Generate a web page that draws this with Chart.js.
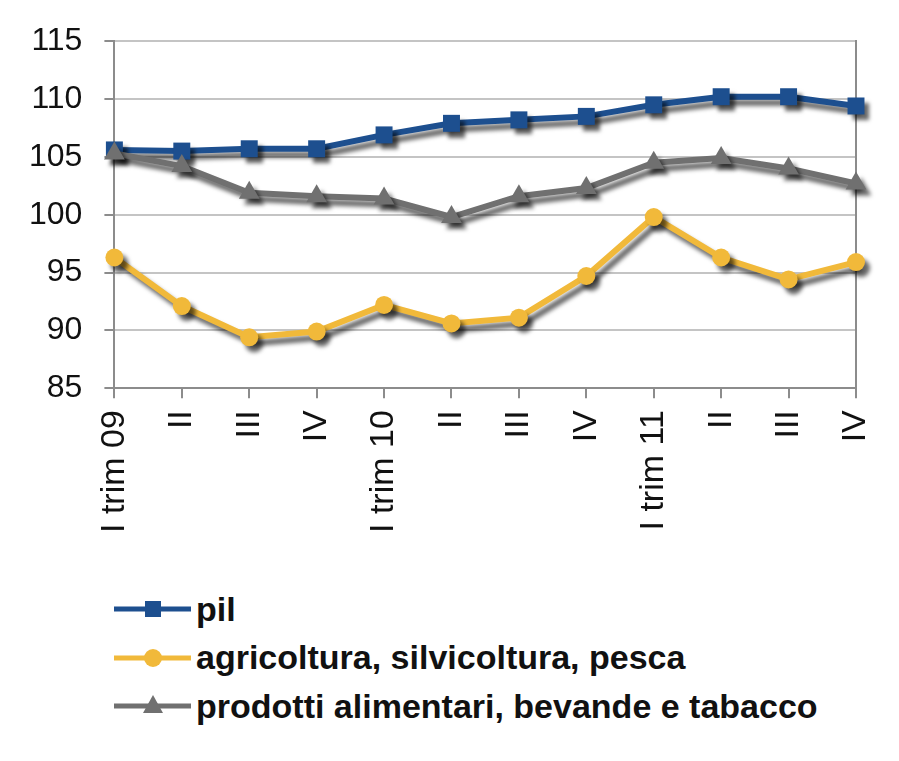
<!DOCTYPE html>
<html>
<head>
<meta charset="utf-8">
<script src="https://cdn.jsdelivr.net/npm/chart.js@4.4.1/dist/chart.umd.min.js"></script>
<style>
    html, body { margin: 0; padding: 0; background: #fff; }
    #wrap { position: relative; width: 899px; height: 761px; }
    #chartBox { position: absolute; left: 0; top: 0; width: 899px; height: 549px; }
    #legend { position: absolute; left: 114px; top: 585px; font-family: "Liberation Sans", Arial, sans-serif; font-weight: bold; font-size: 34px; color: #111; }
    .item { display: flex; align-items: center; height: 48.5px; }
    .item svg { margin-right: 5px; }
</style>
</head>
<body>
<div id="wrap">
    <div id="chartBox"><canvas id="trendChart"></canvas></div>
    <div id="legend"></div>
</div>
<script>
// Quarter labels
const quarters = ['I trim 09', 'II', 'III', 'IV', 'I trim 10', 'II', 'III', 'IV', 'I trim 11', 'II', 'III', 'IV'];

// Series values (index numbers)
const pilValues = [105.6, 105.5, 105.7, 105.7, 106.9, 107.9, 108.2, 108.5, 109.5, 110.2, 110.2, 109.4];
const agricolturaValues = [96.3, 92.1, 89.4, 89.9, 92.2, 90.6, 91.1, 94.7, 99.8, 96.3, 94.4, 95.9];
const alimentariValues = [105.3, 104.2, 101.9, 101.6, 101.4, 99.8, 101.6, 102.3, 104.5, 104.9, 104.0, 102.7];

// Y axis ticks
const yTicks = [85, 90, 95, 100, 105, 110, 115];

const seriesNames = ['pil', 'agricoltura, silvicoltura, pesca', 'prodotti alimentari, bevande e tabacco'];
const colors = { pil: '#1d4f8f', agri: '#f1b93a', alim: '#707070' };

// Soft drop shadow under the lines, like the original
const shadowPlugin = {
    id: 'shadow',
    beforeDatasetsDraw: (chart) => {
        const ctx = chart.ctx;
        ctx.save();
        ctx.shadowColor = 'rgba(0,0,0,0.6)';
        ctx.shadowBlur = 4;
        ctx.shadowOffsetX = 5;
        ctx.shadowOffsetY = 6;
    },
    afterDatasetsDraw: (chart) => {
        chart.ctx.restore();
    }
};

const yFont = { family: '"Liberation Sans", Arial, sans-serif', size: 32 };
const xFont = { family: '"Liberation Sans", Arial, sans-serif', size: 34 };

new Chart(document.getElementById('trendChart'), {
    type: 'line',
    data: {
        labels: quarters,
        datasets: [
            {
                label: seriesNames[0],
                data: pilValues,
                borderColor: colors.pil,
                backgroundColor: colors.pil,
                borderWidth: 6,
                pointStyle: 'rect',
                pointRadius: 12,
                pointBorderWidth: 0,
                clip: false,
                order: 1
            },
            {
                label: seriesNames[1],
                data: agricolturaValues,
                borderColor: colors.agri,
                backgroundColor: colors.agri,
                borderWidth: 6,
                pointStyle: 'circle',
                pointRadius: 9,
                pointBorderWidth: 0,
                clip: false,
                order: 2
            },
            {
                label: seriesNames[2],
                data: alimentariValues,
                borderColor: colors.alim,
                backgroundColor: colors.alim,
                borderWidth: 6,
                pointStyle: 'triangle',
                pointRadius: 12,
                pointBorderWidth: 0,
                clip: false,
                order: 0
            }
        ]
    },
    options: {
        responsive: true,
        maintainAspectRatio: false,
        animation: false,
        layout: { padding: { top: 35, right: 43, left: 7, bottom: 4 } },
        plugins: {
            legend: { display: false },
            tooltip: { enabled: false }
        },
        scales: {
            x: {
                offset: false,
                // last rotated label should not push the plot edge in
                afterFit: (scale) => { scale.paddingRight = 0; },
                grid: { drawOnChartArea: false, drawTicks: true, tickLength: 10, color: '#8c8c8c', lineWidth: 2 },
                border: { color: '#8c8c8c', width: 2 },
                ticks: { color: '#111', font: xFont, minRotation: 90, maxRotation: 90, autoSkip: false, padding: 12 }
            },
            y: {
                min: 85,
                max: 115,
                afterBuildTicks: (axis) => { axis.ticks = yTicks.map(v => ({ value: v })); },
                grid: { color: '#c4c4c4', lineWidth: 2, tickLength: 10, tickColor: '#8c8c8c' },
                border: { color: '#8c8c8c', width: 2 },
                ticks: { color: '#111', font: yFont, padding: 22 }
            },
            y2: {
                position: 'right',
                min: 85,
                max: 115,
                grid: { drawOnChartArea: false, drawTicks: false },
                border: { color: '#8c8c8c', width: 2 },
                ticks: { display: false }
            }
        }
    },
    plugins: [shadowPlugin]
});

// HTML legend, one entry per row
const legendItems = [
    { name: seriesNames[0], color: colors.pil, marker: 'rect' },
    { name: seriesNames[1], color: colors.agri, marker: 'circle' },
    { name: seriesNames[2], color: colors.alim, marker: 'triangle' }
];
const legendEl = document.getElementById('legend');
legendItems.forEach(item => {
    let mark = '';
    if (item.marker === 'rect') {
        mark = `<rect x="31" y="7" width="16" height="16" fill="${item.color}"/>`;
    } else if (item.marker === 'circle') {
        mark = `<circle cx="39" cy="15" r="9" fill="${item.color}"/>`;
    } else {
        mark = `<polygon points="39,4 49,22 29,22" fill="${item.color}"/>`;
    }
    const row = document.createElement('div');
    row.className = 'item';
    row.innerHTML = `<svg width="77" height="30"><line x1="0" y1="15" x2="77" y2="15" stroke="${item.color}" stroke-width="5"/>${mark}</svg><span>${item.name}</span>`;
    legendEl.appendChild(row);
});
</script>
</body>
</html>
